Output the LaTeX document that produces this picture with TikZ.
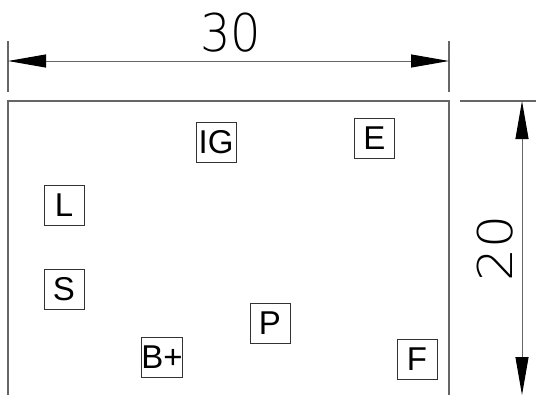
\documentclass[tikz,border=0pt]{standalone}
\usepackage{fontspec}
\setmainfont{Liberation Sans}
\newfontfamily\dimfont{DejaVu Sans ExtraLight}
\usetikzlibrary{arrows.meta}
\definecolor{linegray}{gray}{0.4}
\tikzset{
  lbl/.style={draw=black!80, line width=1pt, minimum size=40pt, inner sep=0pt, font=\fontsize{33}{33}\selectfont},
  frame/.style={draw=linegray, line width=1.1pt},
  extline/.style={draw=linegray, line width=1.1pt},
  dimline/.style={draw=linegray, line width=1pt, {Triangle[length=38pt,width=13pt,black]}-{Triangle[length=38pt,width=13pt,black]}},
  dimtext/.style={font=\dimfont\fontsize{52}{52}\selectfont, inner sep=0pt, xscale=0.92}
}
\begin{document}
\begin{tikzpicture}[x=1pt,y=-1pt]
\useasboundingbox (0,0) rectangle (536,394);
\clip (0,0) rectangle (536,394);
% frame
\draw[frame] (8,101) rectangle (449,397);
% top dimension
\coordinate (tl) at (8,61);
\coordinate (tr) at (449,61);
\draw[extline] (8,41) -- (8,92);
\draw[extline] (449,41) -- (449,92);
\draw[dimline] (tl) -- (tr);
\node[dimtext] (t30) at (231,33) {30};
% right dimension
\coordinate (rt) at (522,101);
\coordinate (rb) at (522,395);
\draw[extline] (460,101) -- (536,101);
\draw[dimline] (rt) -- (rb);
\node[dimtext, rotate=90] (t20) at (495,248) {20};
% labels
\node[lbl] (ig) at (216,142) {IG};
\node[lbl] (e) at (374.5,138) {E};
\node[lbl] (l) at (64,205.5) {L};
\node[lbl] (s) at (64,289) {S};
\node[lbl] (p) at (270,323) {P};
\node[lbl] (b) at (162,357.5) {B+};
\node[lbl] (f) at (417,359) {F};
\end{tikzpicture}
\end{document}
